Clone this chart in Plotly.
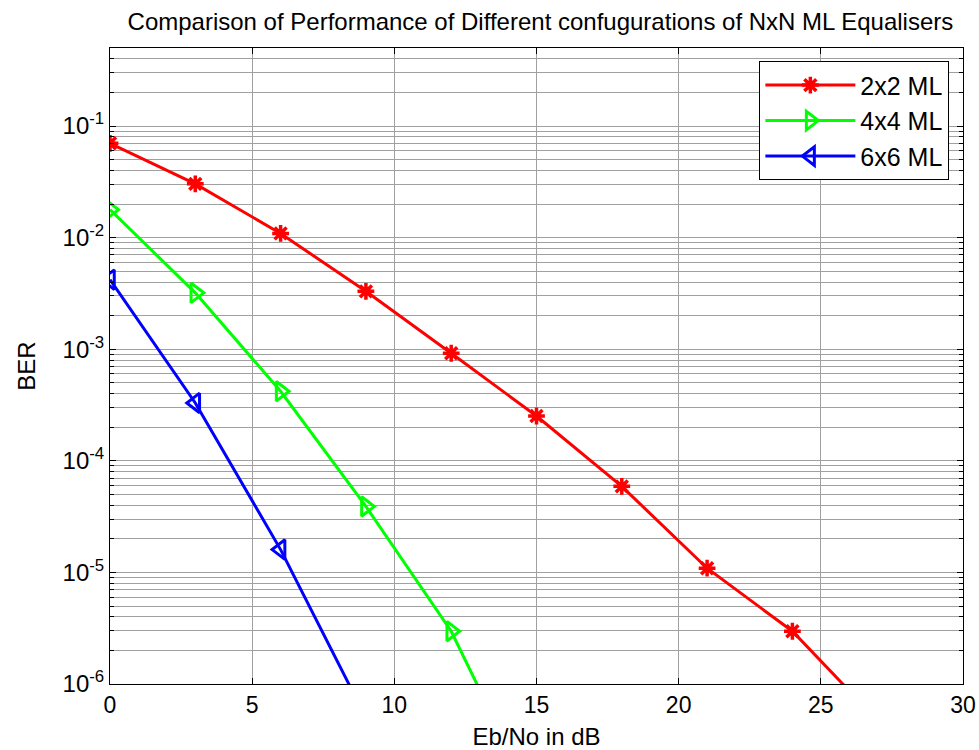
import plotly.graph_objects as go

# ---- data ----
ebno_2x2 = [0, 3, 6, 9, 12, 15, 18, 21, 24, 27]
ber_2x2 = [0.070, 0.0303, 0.0109, 0.0033, 9.2e-4, 2.52e-4, 5.9e-5, 1.09e-5, 2.97e-6, 4.7e-7]
ebno_4x4 = [0, 3, 6, 9, 12, 15]
ber_4x4 = [0.0178, 0.0032, 4.2e-4, 3.9e-5, 2.97e-6, 8e-8]
ebno_6x6 = [0, 3, 6, 9]
ber_6x6 = [0.0042, 3.3e-4, 1.6e-5, 5e-7]

series_names = ["2x2 ML", "4x4 ML", "6x6 ML"]
x_ticks = [0, 5, 10, 15, 20, 25, 30]
y_major = [1e-6, 1e-5, 1e-4, 1e-3, 1e-2, 1e-1]
y_major_text = ["10<sup>-6</sup>", "10<sup>-5</sup>", "10<sup>-4</sup>",
                "10<sup>-3</sup>", "10<sup>-2</sup>", "10<sup>-1</sup>"]
y_minor = [m * 10.0 ** e for e in range(-6, 0) for m in range(2, 10) if m * 10.0 ** e <= 0.5]

title_text = "Comparison of Performance of Different confugurations of NxN ML Equalisers"
x_label = "Eb/No in dB"
y_label = "BER"

FONT = "Liberation Sans, Arial, sans-serif"
GRID = "#a0a0a0"

fig = go.Figure()
fig.add_trace(go.Scatter(x=ebno_2x2, y=ber_2x2, name=series_names[0], mode="lines+markers",
                         line=dict(color="#ff0000", width=3),
                         marker=dict(symbol="asterisk-open", size=14,
                                     line=dict(color="#ff0000", width=3.5))))
fig.add_trace(go.Scatter(x=ebno_4x4, y=ber_4x4, name=series_names[1], mode="lines+markers",
                         line=dict(color="#00ff00", width=3),
                         marker=dict(symbol="triangle-right-open", size=17,
                                     line=dict(color="#00ff00", width=3))))
fig.add_trace(go.Scatter(x=ebno_6x6, y=ber_6x6, name=series_names[2], mode="lines+markers",
                         line=dict(color="#0000ff", width=3),
                         marker=dict(symbol="triangle-left-open", size=17,
                                     line=dict(color="#0000ff", width=3))))

L, R, T, B = 109.5, 16, 47.7, 66
fig.update_layout(
    width=979, height=750,
    margin=dict(l=L, r=R, t=T, b=B, pad=0, autoexpand=False),
    paper_bgcolor="white", plot_bgcolor="white",
    font=dict(family=FONT, size=24, color="black"),
    title=dict(text=title_text, x=0.552, xanchor="center", y=1 - 22 / 750, yanchor="middle",
               yref="container", font=dict(size=24, color="black")),
    showlegend=True,
    legend=dict(x=0.984, xanchor="right", y=0.979, yanchor="top",
                bgcolor="white", bordercolor="black", borderwidth=1,
                font=dict(size=25), itemwidth=90, tracegroupgap=0),
    xaxis=dict(range=[0, 30], tickvals=x_ticks, ticktext=[str(v) for v in x_ticks],
               automargin=False,
               showgrid=True, gridcolor=GRID, gridwidth=1,
               showline=True, linecolor="black", linewidth=1, mirror="ticks",
               ticks="inside", ticklen=6, tickcolor="black",
               zeroline=False, tickfont=dict(size=23),
               title=dict(text=x_label, font=dict(size=24), standoff=11)),
    yaxis=dict(type="log", range=[-6, -0.30103],
               tickvals=y_major, ticktext=y_major_text,
               automargin=False,
               showgrid=True, gridcolor=GRID, gridwidth=1,
               showline=True, linecolor="black", linewidth=1, mirror="ticks",
               ticks="inside", ticklen=6, tickcolor="black",
               zeroline=False, tickfont=dict(size=24),
               minor=dict(tickvals=y_minor, ticks="inside", ticklen=4, tickcolor="black",
                          showgrid=True, gridcolor=GRID, gridwidth=1),
               title=dict(text=y_label, font=dict(size=24), standoff=20)),
)

fig.write_html("out.html")
